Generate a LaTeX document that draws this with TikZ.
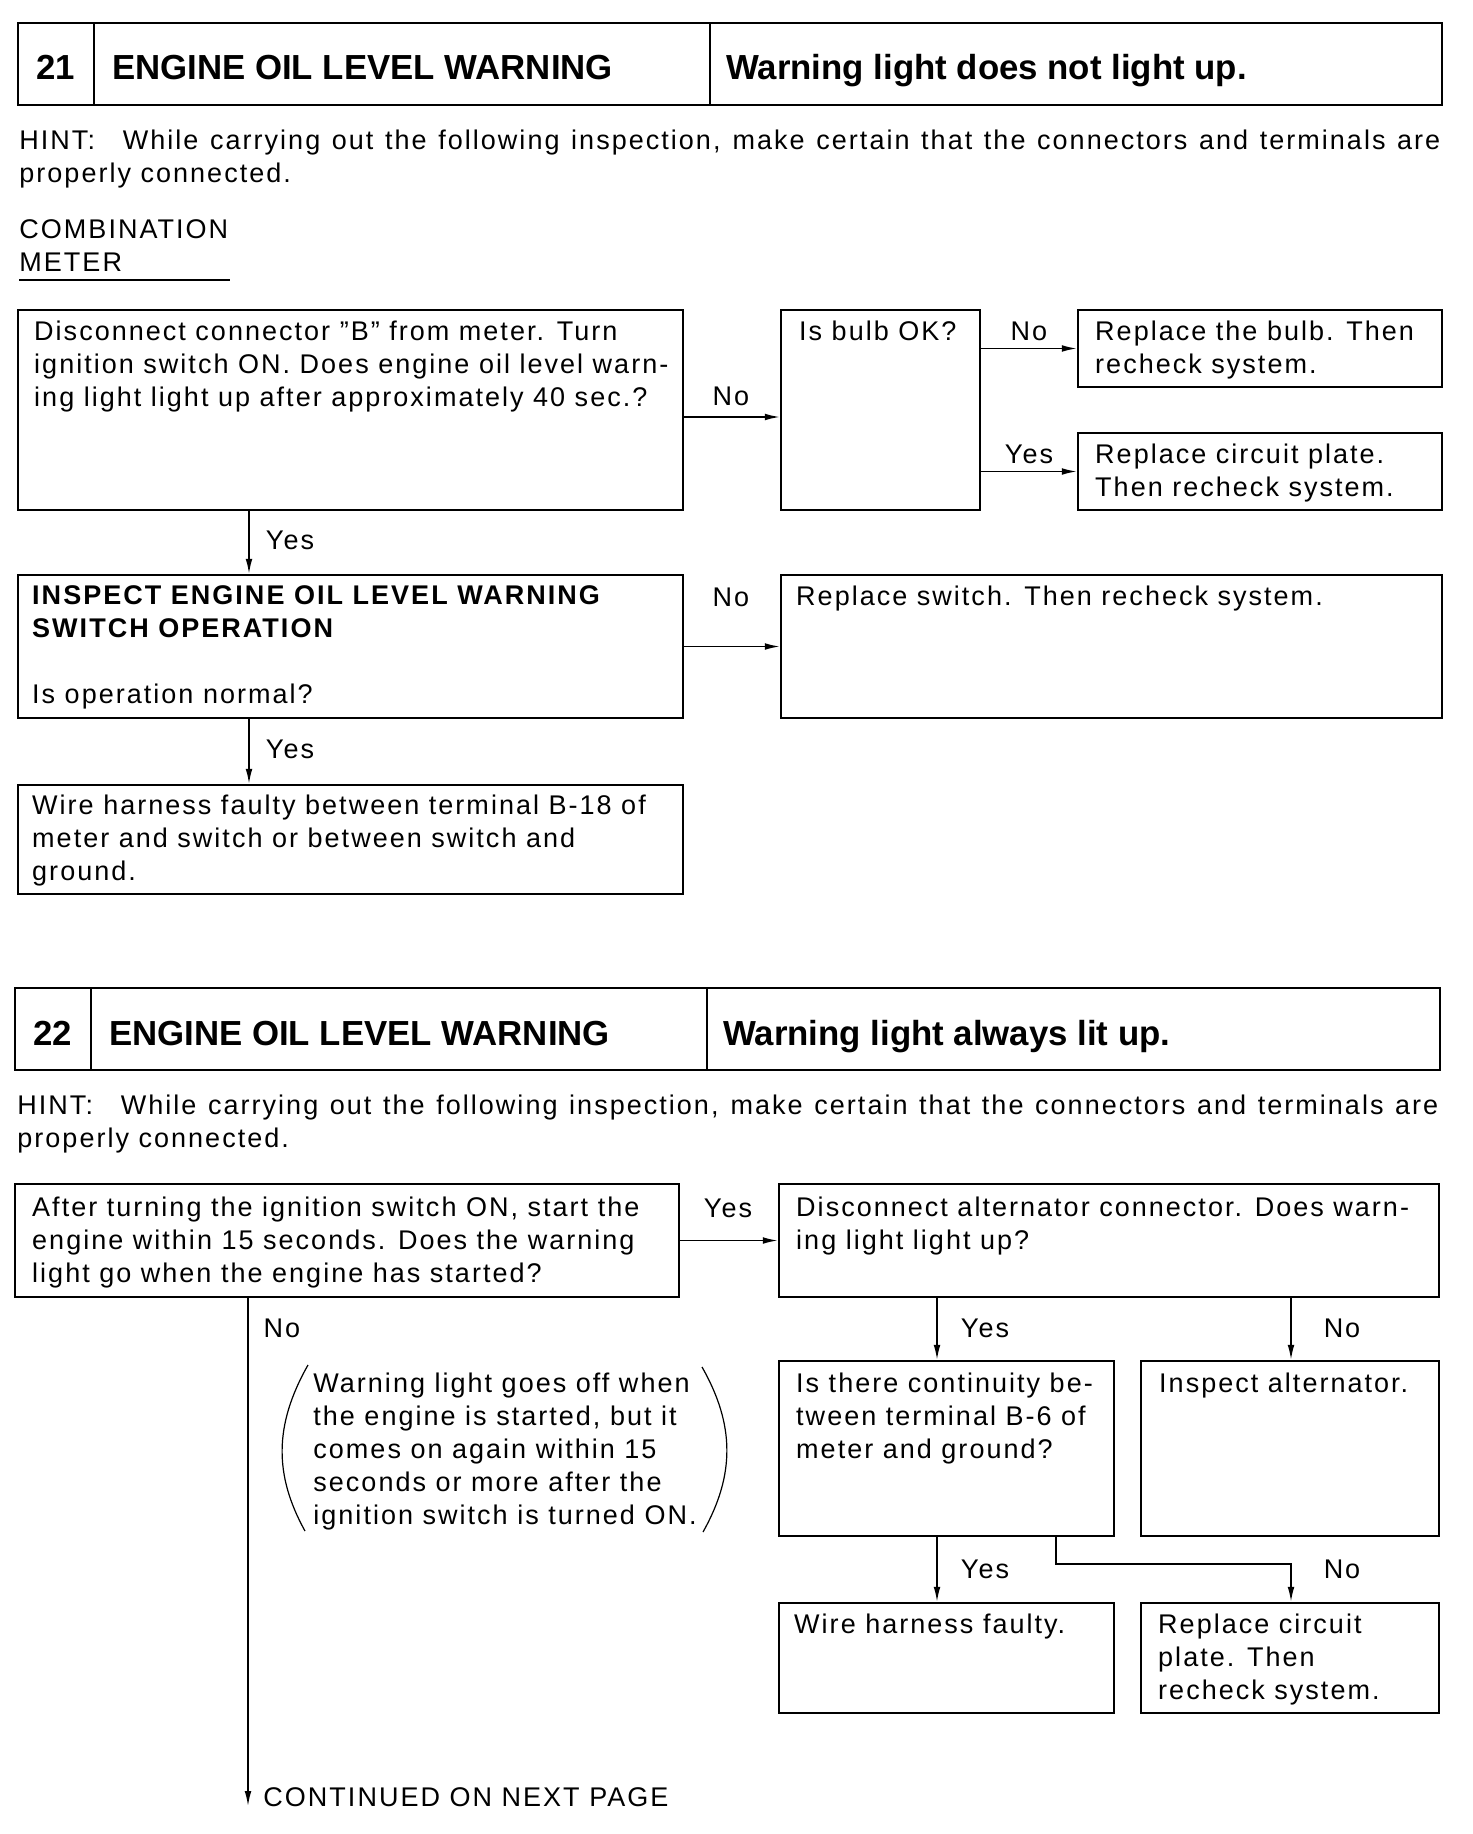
\documentclass[tikz,border=0pt]{standalone}
\usepackage{fontspec}
\setmainfont{Liberation Sans}
\newfontfamily\bodyfont{Liberation Sans}[LetterSpace=7.5]
\usetikzlibrary{arrows.meta,positioning,fit,calc}
\newcommand{\txtfont}{\bodyfont\fontsize{13.5}{16.5}\selectfont}
\newcommand{\ttlfont}{\bfseries\fontsize{17.4}{20}\selectfont}

\begin{document}
\begin{tikzpicture}[x=0.5pt, y=-0.5pt,
  box/.style={draw, line width=1.2pt, inner sep=0pt},
  head/.style={draw, line width=1.3pt, inner sep=0pt},
  txt/.style={anchor=north west, inner sep=0pt, align=left, font=\txtfont},
  lbl/.style={anchor=base, inner sep=0pt, font=\txtfont},
  ttl/.style={anchor=base west, inner sep=0pt, font=\ttlfont},
  arr/.style={line width=0.8pt, -{Latex[length=7.5pt,width=3.4pt]}},
  paren/.style={line width=0.6pt}]
  \useasboundingbox (0,0) rectangle (1472,1834);

  % ---- 21 ----
  \node[head, fit={(18,23) (94,105)}] (n21) {};
  \node[head, fit={(94,23) (710,105)}] (t21) {};
  \node[head, fit={(710,23) (1442,105)}] (s21) {};
  \node[ttl, anchor=base] (n21txt) at ([shift={(0,16)}]n21.center) {21};
  \node[ttl] (t21txt) at ([shift={(19,16)}]t21.west) {ENGINE OIL LEVEL WARNING};
  \node[ttl] (s21txt) at ([shift={(17,16)}]s21.west) {Warning light does not light up.};

  \node[txt, text width=710.5pt, align=justify] (hint21) at (19,126)
    {\strut HINT:\hspace{0.6em} While carrying out the following inspection, make certain that the connectors and terminals are\linebreak properly connected.};
  \node[txt] (combo) at (19,215) {\strut COMBINATION\\METER};
  \draw[line width=1.2pt] ([yshift=-4pt]combo.south west) -- ++(211,0);

  \node[box, fit={(18,310) (683,510)}] (a1) {};
  \node[box, fit={(781,310) (980,510)}] (bulb) {};
  \node[box, fit={(1078,310) (1442,387)}] (rbulb) {};
  \node[box, fit={(1078,433) (1442,510)}] (rcirc) {};
  \node[box, fit={(18,575) (683,718)}] (b1) {};
  \node[box, fit={(781,575) (1442,718)}] (rsw) {};
  \node[box, fit={(18,785) (683,894)}] (c1) {};

  \node[txt] (a1txt) at ([shift={(17,8)}]a1.north west)
    {\strut Disconnect connector ”B” from meter. Turn\\ignition switch ON. Does engine oil level warn-\\ing light light up after approximately 40 sec.?};
  \node[txt] (bulbtxt) at ([shift={(19,8)}]bulb.north west) {\strut Is bulb OK?};
  \node[txt] (rbulbtxt) at ([shift={(18,8)}]rbulb.north west) {\strut Replace the bulb. Then\\recheck system.};
  \node[txt] (rcirctxt) at ([shift={(18,8)}]rcirc.north west) {\strut Replace circuit plate.\\Then recheck system.};
  \node[txt] (b1txt) at ([shift={(15,7)}]b1.north west)
    {\strut\textbf{INSPECT ENGINE OIL LEVEL WARNING}\\\textbf{SWITCH OPERATION}\\[16.5pt]Is operation normal?};
  \node[txt] (rswtxt) at ([shift={(16,8)}]rsw.north west) {\strut Replace switch. Then recheck system.};
  \node[txt] (c1txt) at ([shift={(15,7)}]c1.north west)
    {\strut Wire harness faulty between terminal B-18 of\\meter and switch or between switch and\\ground.};

  \coordinate (lcol) at (249,0);
  \coordinate (norow) at (0,417);
  \draw[arr] (a1.east |- norow) -- (bulb.west |- norow);
  \draw[arr] (bulb.east |- rbulb) -- (rbulb);
  \draw[arr] (bulb.east |- rcirc) -- (rcirc);
  \draw[arr] (a1.south -| lcol) -- (b1.north -| lcol);
  \draw[arr] (b1) -- (rsw);
  \draw[arr] (b1.south -| lcol) -- (c1.north -| lcol);

  \node[lbl] (no1) at (731,406) {No};
  \node[lbl] (no2) at (1029,341) {No};
  \node[lbl] (yes2) at (1029,464) {Yes};
  \node[lbl] (yes1) at (290,549) {Yes};
  \node[lbl] (no3) at (731,606) {No};
  \node[lbl] (yes3) at (290,758) {Yes};

  % ---- 22 ----
  \node[head, fit={(15,988) (91,1070)}] (n22) {};
  \node[head, fit={(91,988) (707,1070)}] (t22) {};
  \node[head, fit={(707,988) (1440,1070)}] (s22) {};
  \node[ttl, anchor=base] (n22txt) at ([shift={(0,16)}]n22.center) {22};
  \node[ttl] (t22txt) at ([shift={(19,16)}]t22.west) {ENGINE OIL LEVEL WARNING};
  \node[ttl] (s22txt) at ([shift={(17,16)}]s22.west) {Warning light always lit up.};

  \node[txt, text width=710.5pt, align=justify] (hint22) at (17,1091)
    {\strut HINT:\hspace{0.6em} While carrying out the following inspection, make certain that the connectors and terminals are\linebreak properly connected.};

  \node[box, fit={(15,1184) (679,1297)}] (d1) {};
  \node[box, fit={(779,1184) (1439,1297)}] (d2) {};
  \node[box, fit={(779,1361) (1114,1536)}] (e1) {};
  \node[box, fit={(1141,1361) (1439,1536)}] (e2) {};
  \node[box, fit={(779,1603) (1114,1713)}] (f1) {};
  \node[box, fit={(1141,1603) (1439,1713)}] (f2) {};

  \node[txt] (d1txt) at ([shift={(18,10)}]d1.north west)
    {\strut After turning the ignition switch ON, start the\\engine within 15 seconds. Does the warning\\light go when the engine has started?};
  \node[txt] (d2txt) at ([shift={(18,10)}]d2.north west)
    {\strut Disconnect alternator connector. Does warn-\\ing light light up?};
  \node[txt] (e1txt) at ([shift={(18,9)}]e1.north west)
    {\strut Is there continuity be-\\tween terminal B-6 of\\meter and ground?};
  \node[txt] (e2txt) at ([shift={(19,9)}]e2.north west) {\strut Inspect alternator.};
  \node[txt] (f1txt) at ([shift={(16,8)}]f1.north west) {\strut Wire harness faulty.};
  \node[txt] (f2txt) at ([shift={(18,8)}]f2.north west) {\strut Replace circuit\\plate. Then\\recheck system.};

  \node[txt] (note) at (313,1369)
    {\strut Warning light goes off when\\the engine is started, but it\\comes on again within 15\\seconds or more after the\\ignition switch is turned ON.};
  \draw[paren] (308,1365) .. controls (274,1425) and (274,1475) .. (305,1531);
  \draw[paren] (702,1367) .. controls (735,1425) and (735,1475) .. (703,1532);

  \node[lbl, anchor=base west] (cont) at (263,1806) {CONTINUED ON NEXT PAGE};

  \coordinate (ncol) at (248,0);
  \coordinate (mcol) at (937,0);
  \coordinate (rcol) at (1291,0);
  \coordinate (bend) at (1056,1564);
  \draw[arr] (d1) -- (d2);
  \draw[arr] (d1.south -| ncol) -- (cont.base west -| ncol);
  \draw[arr] (d2.south -| mcol) -- (e1.north -| mcol);
  \draw[arr] (d2.south -| rcol) -- (e2.north -| rcol);
  \draw[arr] (e1.south -| mcol) -- (f1.north -| mcol);
  \draw[arr] (e1.south -| bend) -- (bend) -| (f2.north -| rcol);

  \node[lbl] (yes4) at (728,1217) {Yes};
  \node[lbl] (no4) at (282,1337) {No};
  \node[lbl] (yes5) at (985,1337) {Yes};
  \node[lbl] (no5) at (1342,1337) {No};
  \node[lbl] (yes6) at (985,1578) {Yes};
  \node[lbl] (no6) at (1342,1578) {No};
\end{tikzpicture}
\end{document}
